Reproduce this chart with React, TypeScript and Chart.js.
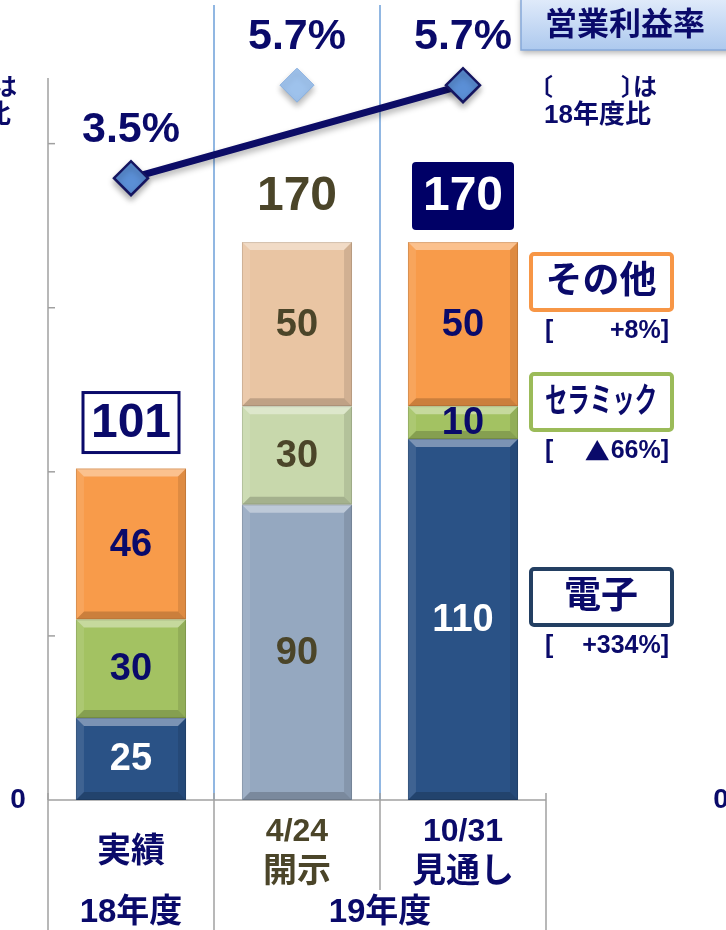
import React, { useEffect, useRef } from 'react';
import { Chart, registerables } from 'chart.js';

Chart.register(...registerables);

// ---- data ----
const categories = ['実績', '開示', '見通し'];
const categoryDates = ['', '4/24', '10/31'];
const fiscalYears = ['18年度', '19年度'];
const electronics = [25, 90, 110];
const ceramics = [30, 30, 10];
const others = [46, 50, 50];
const marginActual: (number | null)[] = [3.5, null, 5.7];
const marginPlan: (number | null)[] = [null, 5.7, null];
const yTicks = [0, 50, 100, 150, 200];
const segmentNames = ['その他', 'セラミック', '電子'];
const segmentChanges = ['+8%', '▲66%', '+334%'];
const marginTitle = '営業利益率';
const noteParts = ['〔', '〕', 'は'];
const noteLine2 = '18年度比';

// ---- styles ----
const NAVY = '#0a0a6a';
const OLIVE = '#4b4529';
const GRAY = '#a0a0a0';
const FONT = '"Liberation Sans", "Noto Sans CJK JP", sans-serif';
const CJK = '"Noto Sans CJK JP", sans-serif';

function txt(ctx: CanvasRenderingContext2D, s: string, x: number, y: number, size: number, color: string, align: CanvasTextAlign = 'center', family: string = FONT) {
  ctx.font = `bold ${size}px ${family}`;
  ctx.fillStyle = color;
  ctx.textAlign = align;
  ctx.textBaseline = 'middle';
  ctx.fillText(s, x, y);
}

function poly(ctx: CanvasRenderingContext2D, pts: number[][], color: string) {
  ctx.beginPath();
  ctx.moveTo(pts[0][0], pts[0][1]);
  for (let i = 1; i < pts.length; i++) ctx.lineTo(pts[i][0], pts[i][1]);
  ctx.closePath();
  ctx.fillStyle = color;
  ctx.fill();
}

function bevel(ctx: CanvasRenderingContext2D, l: number, t: number, r: number, b: number) {
  const s = Math.min(8, (b - t) / 2);
  poly(ctx, [[l, t], [r, t], [r - s, t + s], [l + s, t + s]], 'rgba(255,255,255,0.38)');
  poly(ctx, [[l, t], [l + s, t + s], [l + s, b - s], [l, b]], 'rgba(255,255,255,0.10)');
  poly(ctx, [[r, t], [r, b], [r - s, b - s], [r - s, t + s]], 'rgba(0,0,0,0.10)');
  poly(ctx, [[l, b], [r, b], [r - s, b - s], [l + s, b - s]], 'rgba(0,0,0,0.18)');
  ctx.strokeStyle = 'rgba(0,0,0,0.12)';
  ctx.lineWidth = 1;
  ctx.strokeRect(l + 0.5, t + 0.5, r - l - 1, b - t - 1);
}

const labelColors = [
  ['#ffffff', OLIVE, '#ffffff'],
  [NAVY, OLIVE, NAVY],
  [NAVY, OLIVE, NAVY],
];

function drawNote(ctx: CanvasRenderingContext2D, ox: number) {
  txt(ctx, noteParts[0], ox + 529, 86, 24, NAVY, 'left', CJK);
  txt(ctx, noteParts[1], ox + 621, 86, 24, NAVY, 'left', CJK);
  txt(ctx, noteParts[2], ox + 633, 86, 24, NAVY, 'left', CJK);
  txt(ctx, noteLine2, ox + 544, 116, 26, NAVY, 'left');
}

const decor = {
  id: 'decor',
  beforeDatasetsDraw(chart: any) {
    const ctx: CanvasRenderingContext2D = chart.ctx;
    const ca = chart.chartArea;
    const xs = chart.scales.x;
    const ys = chart.scales.y;
    const catW = xs.getPixelForValue(1) - xs.getPixelForValue(0);
    const bnd = [0, 1, 2, 3].map((i) => xs.getPixelForValue(0) - catW / 2 + i * catW);
    ctx.save();
    ctx.strokeStyle = '#6d9fd8';
    ctx.lineWidth = 1.5;
    [bnd[1], bnd[2]].forEach((bx) => {
      ctx.beginPath();
      ctx.moveTo(bx, 5);
      ctx.lineTo(bx, ca.bottom);
      ctx.stroke();
    });
    ctx.strokeStyle = GRAY;
    ctx.lineWidth = 1.5;
    ctx.beginPath();
    ctx.moveTo(ca.left, ca.top);
    ctx.lineTo(ca.left, ca.bottom);
    ctx.stroke();
    yTicks.forEach((v) => {
      if (v === 0) return;
      const py = ys.getPixelForValue(v);
      ctx.beginPath();
      ctx.moveTo(ca.left, py);
      ctx.lineTo(ca.left + 7, py);
      ctx.stroke();
    });
    ctx.beginPath();
    ctx.moveTo(ca.left, ca.bottom);
    ctx.lineTo(bnd[3], ca.bottom);
    ctx.stroke();
    bnd.forEach((bx, i) => {
      ctx.beginPath();
      ctx.moveTo(bx, ca.bottom - 7);
      ctx.lineTo(bx, i === 2 ? ca.bottom + 90 : 930);
      ctx.stroke();
    });
    ctx.restore();
  },
  beforeDatasetDraw(chart: any, args: any) {
    const ds = chart.data.datasets[args.index];
    if (ds.type === 'line') {
      const ctx = chart.ctx;
      ctx.save();
      ctx.shadowColor = 'rgba(0,0,0,0.3)';
      ctx.shadowBlur = 6;
      ctx.shadowOffsetY = 4;
    }
  },
  afterDatasetDraw(chart: any, args: any) {
    const ctx: CanvasRenderingContext2D = chart.ctx;
    const ds = chart.data.datasets[args.index];
    if (ds.type === 'line') {
      ctx.restore();
      return;
    }
    const meta = chart.getDatasetMeta(args.index);
    ctx.save();
    meta.data.forEach((el: any) => {
      const p = el.getProps(['x', 'y', 'base', 'width'], true);
      bevel(ctx, p.x - p.width / 2, Math.min(p.y, p.base), p.x + p.width / 2, Math.max(p.y, p.base));
    });
    ctx.restore();
  },
  afterDatasetsDraw(chart: any) {
    const ctx: CanvasRenderingContext2D = chart.ctx;
    const ca = chart.chartArea;
    const xs = chart.scales.x;
    const catW = xs.getPixelForValue(1) - xs.getPixelForValue(0);
    const bnd = [0, 1, 2, 3].map((i) => xs.getPixelForValue(0) - catW / 2 + i * catW);
    ctx.save();
    // bar value labels
    [0, 1, 2].forEach((di) => {
      const meta = chart.getDatasetMeta(di);
      const vals = chart.data.datasets[di].data;
      meta.data.forEach((el: any, i: number) => {
        const p = el.getProps(['x', 'y', 'base'], true);
        txt(ctx, String(vals[i]), p.x, (p.y + p.base) / 2 + 1, 38, labelColors[di][i]);
      });
    });
    // totals
    const topMeta = chart.getDatasetMeta(2);
    topMeta.data.forEach((el: any, i: number) => {
      const p = el.getProps(['x', 'y'], true);
      const total = electronics[i] + ceramics[i] + others[i];
      const cy = p.y - 46;
      if (i === 0) {
        ctx.fillStyle = '#ffffff';
        ctx.fillRect(p.x - 48, cy - 30, 96, 60);
        ctx.strokeStyle = NAVY;
        ctx.lineWidth = 3;
        ctx.strokeRect(p.x - 48, cy - 30, 96, 60);
        txt(ctx, String(total), p.x, cy + 1, 48, NAVY);
      } else if (i === 1) {
        txt(ctx, String(total), p.x, cy + 1, 48, OLIVE);
      } else {
        ctx.fillStyle = '#000066';
        ctx.beginPath();
        (ctx as any).roundRect(p.x - 51, cy - 34, 102, 68, 4);
        ctx.fill();
        txt(ctx, String(total), p.x, cy + 1, 48, '#ffffff');
      }
    });
    // percentage labels
    [3, 4].forEach((di) => {
      const meta = chart.getDatasetMeta(di);
      const vals = chart.data.datasets[di].data;
      meta.data.forEach((el: any, i: number) => {
        if (vals[i] == null) return;
        const p = el.getProps(['x', 'y'], true);
        txt(ctx, `${(vals[i] as number).toFixed(1)}%`, p.x, p.y - 48, 43, NAVY);
      });
    });
    // header box
    ctx.save();
    ctx.shadowColor = 'rgba(0,0,0,0.3)';
    ctx.shadowBlur = 6;
    ctx.shadowOffsetY = 3;
    const g = ctx.createLinearGradient(0, 0, 0, 50);
    g.addColorStop(0, '#dfeafa');
    g.addColorStop(1, '#adc9ee');
    ctx.fillStyle = g;
    ctx.fillRect(521, -4, 215, 54);
    ctx.restore();
    ctx.strokeStyle = '#86a9da';
    ctx.lineWidth = 1.5;
    ctx.strokeRect(521, -4, 215, 54);
    txt(ctx, marginTitle, 625, 26, 32, NAVY);
    // notes (right and cropped copy at left edge)
    drawNote(ctx, 0);
    drawNote(ctx, -640);
    // segment legend boxes
    const boxes = [
      { top: 254, color: '#f79646' },
      { top: 374, color: '#9bbb59' },
      { top: 569, color: '#233f62' },
    ];
    boxes.forEach((b, i) => {
      ctx.fillStyle = '#ffffff';
      ctx.beginPath();
      (ctx as any).roundRect(531, b.top, 141, 56, 3);
      ctx.fill();
      ctx.strokeStyle = b.color;
      ctx.lineWidth = 4;
      ctx.stroke();
      const cy = b.top + 29;
      if (i === 1) {
        ctx.save();
        ctx.translate(601, cy);
        ctx.scale(0.66, 1);
        txt(ctx, segmentNames[i], 0, 0, 34, NAVY);
        ctx.restore();
      } else {
        txt(ctx, segmentNames[i], 601, cy, 37, NAVY);
      }
      const ly = b.top + 77;
      txt(ctx, '[', 545, ly, 25, NAVY, 'left');
      const ch = segmentChanges[i];
      if (ch.startsWith('▲')) {
        const rest = ch.slice(1) + ']';
        txt(ctx, rest, 669, ly, 25, NAVY, 'right');
        ctx.font = `bold 25px ${FONT}`;
        const w = ctx.measureText(rest).width;
        txt(ctx, '▲', 669 - w - 1, ly, 25, NAVY, 'right', CJK);
      } else {
        txt(ctx, ch + ']', 669, ly, 25, NAVY, 'right');
      }
    });
    // axis zero labels
    txt(ctx, String(yTicks[0]), 18, ca.bottom, 28, NAVY);
    txt(ctx, String(yTicks[0]), 721, ca.bottom, 28, NAVY);
    // category labels
    const cx = [0, 1, 2].map((i) => xs.getPixelForValue(i));
    txt(ctx, categories[0], cx[0], ca.bottom + 53, 34, NAVY);
    txt(ctx, categoryDates[1], cx[1], ca.bottom + 32, 32, OLIVE);
    txt(ctx, categories[1], cx[1], ca.bottom + 73, 34, OLIVE);
    txt(ctx, categoryDates[2], cx[2], ca.bottom + 32, 32, NAVY);
    txt(ctx, categories[2], cx[2], ca.bottom + 73, 34, NAVY);
    txt(ctx, fiscalYears[0], cx[0], ca.bottom + 113, 33, NAVY);
    txt(ctx, fiscalYears[1], (bnd[1] + bnd[3]) / 2, ca.bottom + 113, 33, NAVY);
    ctx.restore();
  },
};

export default function App() {
  const ref = useRef<HTMLCanvasElement | null>(null);
  useEffect(() => {
    if (!ref.current) return;
    const chart = new Chart(ref.current, {
      type: 'bar',
      data: {
        labels: categories,
        datasets: [
          { label: '電子', data: electronics, backgroundColor: ['#2a5286', '#95a8c0', '#2a5286'], stack: 's', order: 3 } as any,
          { label: 'セラミック', data: ceramics, backgroundColor: ['#a3c262', '#c8d8ac', '#a3c262'], stack: 's', order: 3 } as any,
          { label: 'その他', data: others, backgroundColor: ['#f89b4a', '#e9c5a3', '#f89b4a'], stack: 's', order: 3 } as any,
          {
            type: 'line', label: '営業利益率', data: marginActual, yAxisID: 'y1',
            borderColor: '#0c0c66', borderWidth: 7, pointStyle: 'rectRot', pointRadius: 17,
            pointBackgroundColor: '#5b8fd6', pointBorderColor: '#151560', pointBorderWidth: 2.5,
            spanGaps: true, clip: false, order: 1,
          } as any,
          {
            type: 'line', label: '営業利益率(計画)', data: marginPlan, yAxisID: 'y1', showLine: false,
            pointStyle: 'rectRot', pointRadius: 17, pointBackgroundColor: '#9ec2ec',
            pointBorderColor: '#88afe0', pointBorderWidth: 1, clip: false, order: 1,
          } as any,
        ],
      },
      options: {
        responsive: false,
        animation: false,
        devicePixelRatio: 1,
        layout: { padding: { left: 48, right: 180, top: 78, bottom: 130 } },
        plugins: { legend: { display: false }, tooltip: { enabled: false } },
        scales: {
          x: { display: false, stacked: true, offset: true },
          y: { display: false, stacked: true, min: 0, max: 220 },
          y1: { display: false, min: -11.21, max: 5.87 },
        },
        datasets: { bar: { categoryPercentage: 1, barPercentage: 0.663, borderWidth: 0 } } as any,
      } as any,
      plugins: [decor],
    });
    return () => chart.destroy();
  }, []);
  return (
    <div style={{ position: 'absolute', left: 0, top: 0, width: 726, height: 930, background: '#fff' }}>
      <canvas ref={ref} width={726} height={930} style={{ display: 'block' }} />
    </div>
  );
}
